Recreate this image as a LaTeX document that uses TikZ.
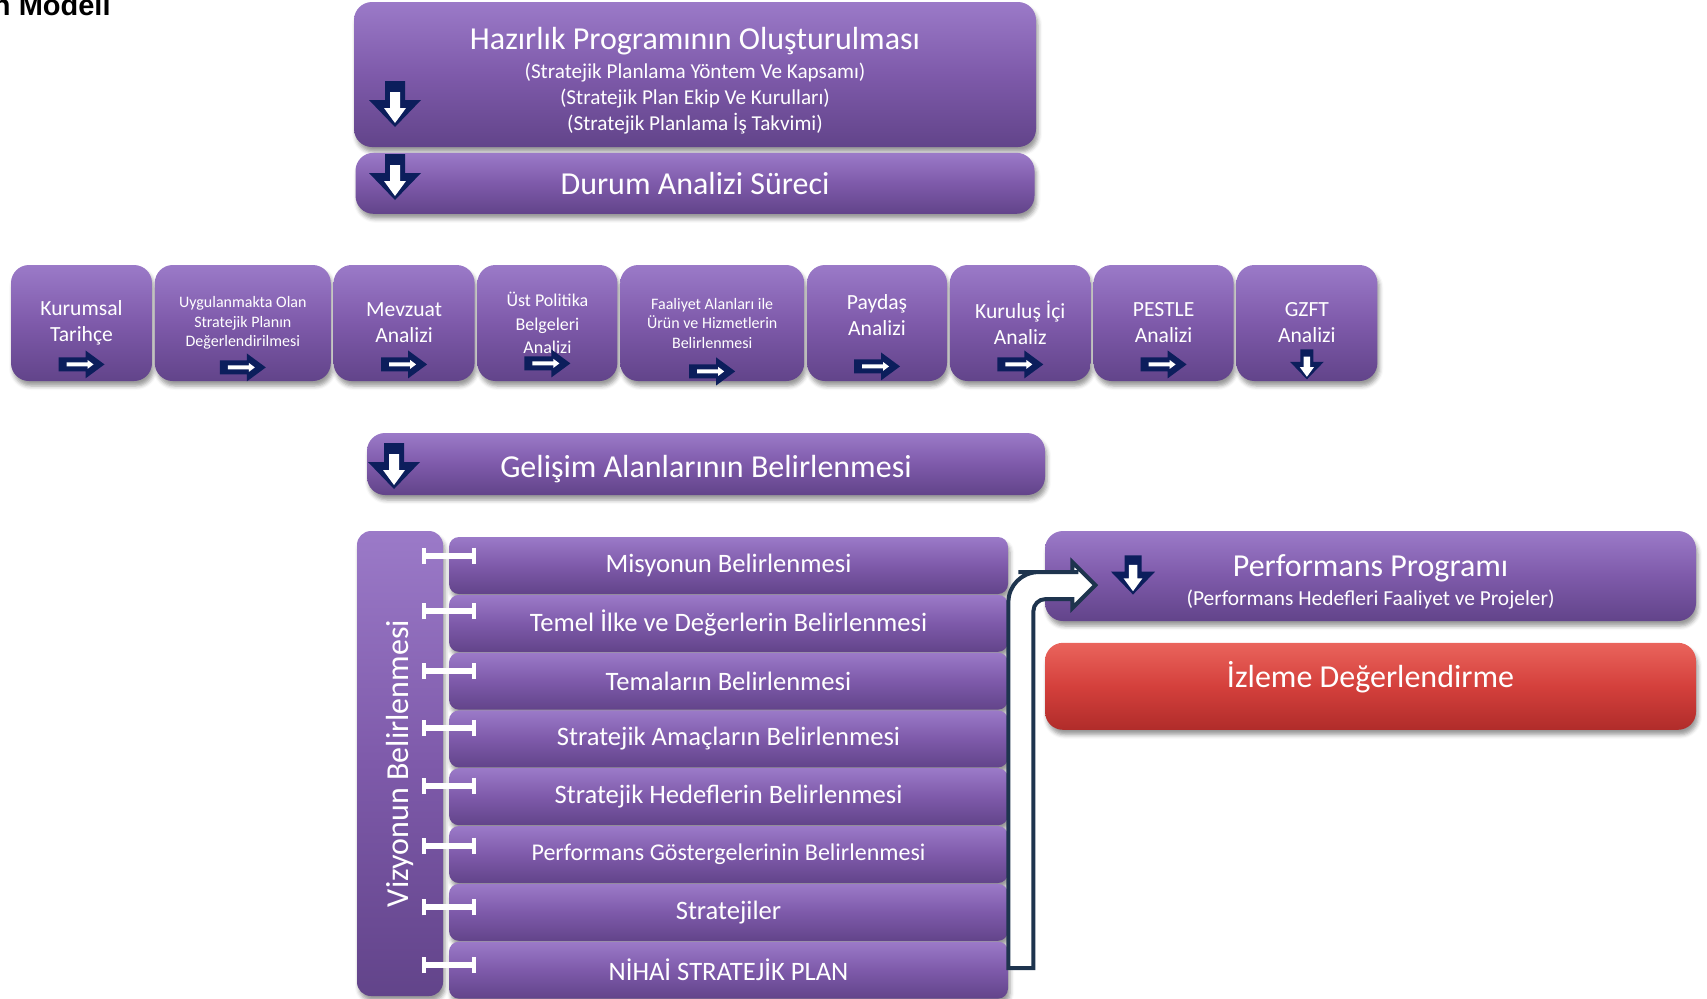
\documentclass[tikz,border=0pt]{standalone}
\usepackage{fontspec}
\setmainfont{Carlito}
\newfontfamily\headfont{Liberation Sans}
\usetikzlibrary{positioning,shadows.blur,arrows.meta}

\definecolor{purptop}{RGB}{155,122,200}
\definecolor{purpmid}{RGB}{126,90,170}
\definecolor{purpbot}{RGB}{98,68,138}
\definecolor{redtop}{RGB}{234,100,92}
\definecolor{redmid}{RGB}{212,64,60}
\definecolor{redbot}{RGB}{176,44,42}
\definecolor{navy}{RGB}{12,30,92}
\definecolor{slate}{RGB}{30,52,78}

\begin{document}
\begin{tikzpicture}[x=0.5pt, y=-0.5pt,
	panel/.style = {rounded corners=9pt, top color=purptop, bottom color=purpbot, middle color=purpmid, text=white, align=center, inner sep=2pt, font=\fontsize{16}{19}\selectfont, blur shadow={shadow xshift=1pt, shadow yshift=-2.5pt, shadow blur radius=2pt}},
	cell/.style = {panel, minimum height=58pt, font=\fontsize{10.8}{13}\selectfont},
	small/.style = {font=\fontsize{8}{9.75}\selectfont},
	stage/.style = {panel, rounded corners=5pt, minimum width=279.5pt, minimum height=28.5pt, font=\fontsize{13.3}{16}\selectfont},
	alarm/.style = {panel, top color=redtop, bottom color=redbot, middle color=redmid},
	link/.style = {white, line width=3pt, {Bar[width=8pt,line width=2pt]}-{Bar[width=8pt,line width=2pt]}},
	bent/.style = {draw=slate, line width=2pt, fill=white},
	rarr/.pic = {
		\fill[navy] (-23,-7) -- (4,-7) -- (4,-14) -- (23,0) -- (4,14) -- (4,7) -- (-23,7) -- cycle;
		\fill[white] (-15,-2) -- (6,-2) -- (6,-4.5) -- (12,0) -- (6,4.5) -- (6,2) -- (-15,2) -- cycle;
	},
	darr/.pic = {
		\fill[navy] (-10,-23) -- (10,-23) -- (10,-4) -- (26,-4) -- (0,23) -- (-26,-4) -- (-10,-4) -- cycle;
		\fill[white] (-5,-12) -- (5,-12) -- (5,4) -- (11,4) -- (0,19) -- (-11,4) -- (-5,4) -- cycle;
	}]
			\useasboundingbox (0,0) rectangle (1707,998);
			\node[anchor=base east, inner sep=0pt, font=\headfont\bfseries\fontsize{14.5}{17}\selectfont] (title) at (111,15) {n Modeli};
			
			\node[panel, font=\fontsize{10.6}{13}\selectfont, minimum width=341pt, minimum height=72.5pt] (prep) at (695,74.5) {\rule{0pt}{17.5pt}{\fontsize{16}{19}\selectfont Hazırlık Programının Oluşturulması}\\[1.25pt]
				(Stratejik Planlama Yöntem Ve Kapsamı)\\
				(Stratejik Plan Ekip Ve Kurulları)\\
				(Stratejik Planlama İş Takvimi)};
			\node[panel, minimum width=339.5pt, minimum height=30.5pt, below=2.5pt of prep] (durum) {Durum Analizi Süreci};
			\pic at (395,104) {darr};
			\pic at (395,177) {darr};
			
			\node[cell, minimum width=70.5pt] (1) at (81.5,323) {Kurumsal\\Tarihçe};
			\node[cell, small, minimum width=88pt, right=1pt of 1] (2) {Uygulanmakta Olan\\Stratejik Planın\\Değerlendirilmesi};
			\node[cell, minimum width=70.5pt, right=1pt of 2] (3) {Mevzuat\\Analizi};
			\node[cell, font=\fontsize{9}{11.75}\selectfont, minimum width=70pt, right=1pt of 3] (4) {Üst Politika\\Belgeleri\\Analizi};
			\node[cell, small, minimum width=92pt, right=1pt of 4] (5) {Faaliyet Alanları ile\\Ürün ve Hizmetlerin\\Belirlenmesi};
			\node[cell, minimum width=70pt, right=1pt of 5] (6) {Paydaş\\Analizi\rule[-8pt]{0pt}{8pt}};
			\node[cell, minimum width=70.5pt, right=1pt of 6] (7) {Kuruluş İçi\\Analiz};
			\node[cell, minimum width=70pt, right=1pt of 7] (8) {PESTLE\\Analizi};
			\node[cell, minimum width=70.5pt, right=1pt of 8] (9) {GZFT\\Analizi};
			\pic at ([yshift=8.5pt]1.south) {rarr};
			\pic at ([yshift=7pt]2.south) {rarr};
			\pic at ([yshift=8.5pt]3.south) {rarr};
			\pic at ([yshift=9pt]4.south) {rarr};
			\pic at ([yshift=5pt]5.south) {rarr};
			\pic at ([yshift=7.5pt]6.south) {rarr};
			\pic at ([yshift=8.5pt]7.south) {rarr};
			\pic at ([yshift=8.5pt]8.south) {rarr};
			\pic[scale=0.65] at ([yshift=8.5pt]9.south) {darr};
			
			\node[panel, text height=16pt, minimum width=339pt, minimum height=31pt] (gelisim) at (706,464) {Gelişim Alanlarının Belirlenmesi};
			\pic at (394,466) {darr};
			
			\node[panel, rotate=90, rounded corners=7pt, minimum width=232.5pt, minimum height=43pt] (viz) at (400,763.5) {Vizyonun Belirlenmesi};
			\node[stage] (11) at (728.5,565.5) {Misyonun Belirlenmesi};
			\node[stage, below=0pt of 11] (12) {Temel İlke ve Değerlerin Belirlenmesi};
			\node[stage, below=0pt of 12] (13) {Temaların Belirlenmesi};
			\node[stage, below=0pt of 13] (14) {Stratejik Amaçların Belirlenmesi};
			\node[stage, below=0pt of 14] (15) {Stratejik Hedeflerin Belirlenmesi};
			\node[stage, font=\fontsize{12}{15}\selectfont, below=0pt of 15] (16) {Performans Göstergelerinin Belirlenmesi};
			\node[stage, below=0pt of 16] (17) {Stratejiler};
			\node[stage, below=0pt of 17] (18) {NİHAİ STRATEJİK PLAN};
			\draw[link] ([xshift=-13.5pt,yshift=5pt]11.west) -- ([xshift=13.5pt,yshift=5pt]11.west);
			\draw[link] ([xshift=-13.5pt,yshift=6pt]12.west) -- ([xshift=13.5pt,yshift=6pt]12.west);
			\draw[link] ([xshift=-13.5pt,yshift=5pt]13.west) -- ([xshift=13.5pt,yshift=5pt]13.west);
			\draw[link] ([xshift=-13.5pt,yshift=5.5pt]14.west) -- ([xshift=13.5pt,yshift=5.5pt]14.west);
			\draw[link] ([xshift=-13.5pt,yshift=5.5pt]15.west) -- ([xshift=13.5pt,yshift=5.5pt]15.west);
			\draw[link] ([xshift=-13.5pt,yshift=4.5pt]16.west) -- ([xshift=13.5pt,yshift=4.5pt]16.west);
			\draw[link] ([xshift=-13.5pt,yshift=2.5pt]17.west) -- ([xshift=13.5pt,yshift=2.5pt]17.west);
			\draw[link] ([xshift=-13.5pt,yshift=2.5pt]18.west) -- ([xshift=13.5pt,yshift=2.5pt]18.west);
			
			\node[panel, font=\fontsize{10.7}{13}\selectfont, minimum width=325.5pt, minimum height=45pt] (perf) at (1370.5,576) {\rule{0pt}{17pt}{\fontsize{16}{19}\selectfont Performans Programı}\\[1.25pt]
				(Performans Hedefleri Faaliyet ve Projeler)};
			\node[alarm, minimum width=325.5pt, minimum height=43.5pt, text depth=12pt, below=10.5pt of perf] (izleme) {İzleme Değerlendirme};
			\pic[scale=0.85] at (1133,575) {darr};
			
			\draw[bent] ([yshift=1pt]18.east) -- ++(0,-300) [rounded corners=15pt] -- ++(0,-96) -- ++(40,0) [sharp corners] -- ++(24,0) -- ++(0,-10) -- ++(23,23) -- ++(-23,23) -- ++(0,-9) -- ++(-20,0) [rounded corners=6pt] -- ++(-19,0) -- ++(0,100) [sharp corners] -- ++(0,269) -- cycle;
			
			\end{tikzpicture}
\end{document}
